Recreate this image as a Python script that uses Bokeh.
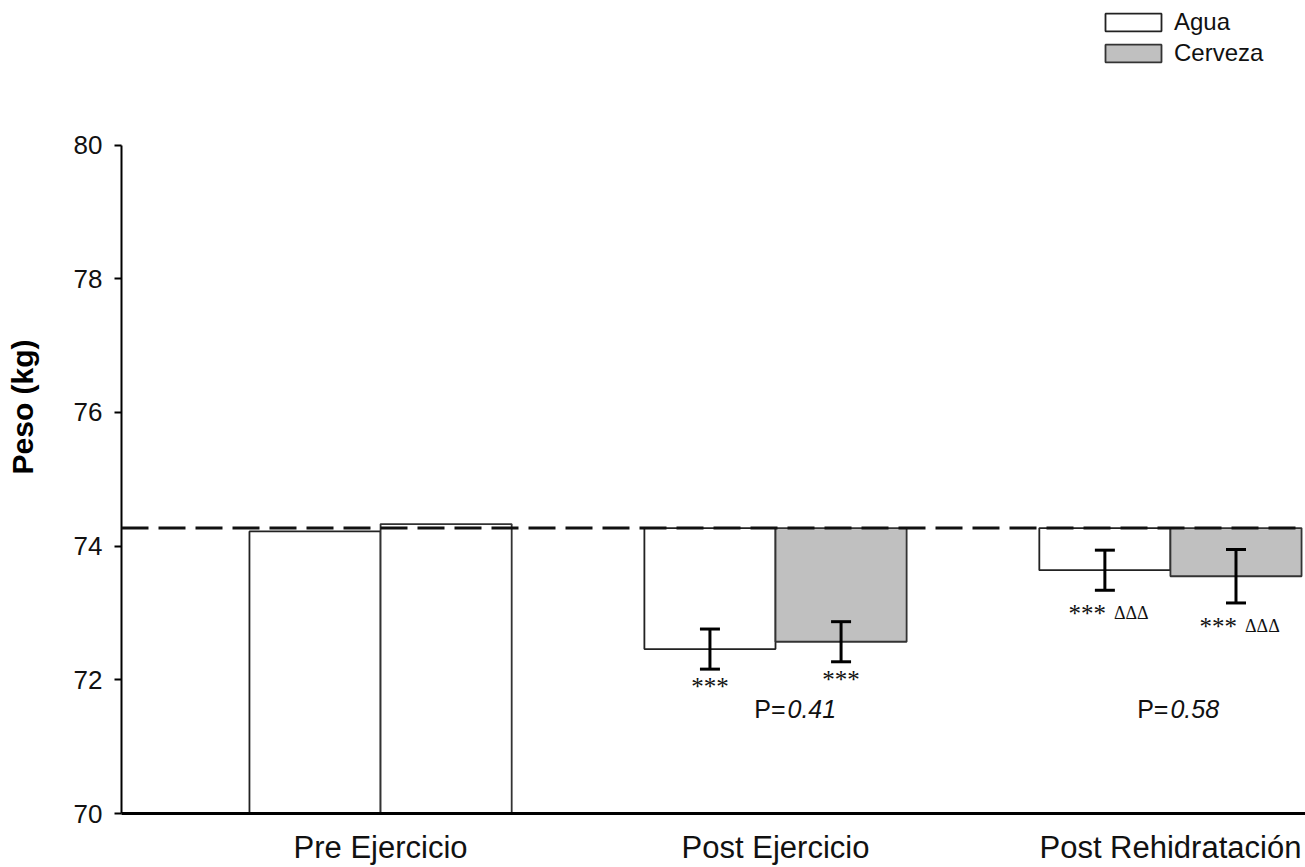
import numpy as np
from bokeh.plotting import figure
from bokeh.models import (ColumnDataSource, Range1d, FixedTicker, Span, Whisker,
                          TeeHead, Legend, LegendItem)
from bokeh.core.properties import value
from bokeh.embed import file_html
from bokeh.resources import INLINE

# ---------------- data ----------------
categories = ["Pre Ejercicio", "Post Ejercicio", "Post Rehidratación"]
series_names = ["Agua", "Cerveza"]
agua = [74.22, 72.46, 73.64]
cerveza = [74.33, 72.57, 73.55]
agua_err = [0.0, 0.30, 0.30]
cerveza_err = [0.0, 0.30, 0.40]
baseline = 74.27            # peso pre-ejercicio (línea discontinua)
stars = ["", "***", "***"]
deltas = ["", "", "ΔΔΔ"]
p_values = ["", "0.41", "0.58"]
y_ticks = [70, 72, 74, 76, 78, 80]

# ---------------- styles / layout constants ----------------
FONT = "Liberation Sans"
SERIF = "Liberation Serif"
agua_fill = ["white", "white", "white"]
cerveza_fill = ["white", "#c0c0c0", "#c0c0c0"]
x_start, x_end = -0.656, 2.342
y_start, y_axis_top, y_end = 70, 80, 82.164
dodge = 0.166
bar_w = 0.332

p = figure(width=1305, height=867,
           x_range=Range1d(x_start, x_end), y_range=Range1d(y_start, y_end),
           output_backend="svg", toolbar_location=None,
           min_border_left=121, min_border_right=0,
           min_border_top=0, min_border_bottom=52)
p.grid.visible = False
p.outline_line_color = None
p.background_fill_color = "white"

# bars: pre-exercise bars rise from the axis floor, later bars hang from the baseline
def bar_source(vals, offset, fills):
    xs, tops, bottoms = [], [], []
    for i, v in enumerate(vals):
        xs.append(i + offset)
        if i == 0:
            bottoms.append(y_start)
            tops.append(v)
        else:
            tops.append(baseline)
            bottoms.append(v)
    return ColumnDataSource(dict(x=xs, top=tops, bottom=bottoms, fill=fills))

r_agua = p.vbar(x="x", top="top", bottom="bottom", width=bar_w,
                source=bar_source(agua, -dodge, agua_fill),
                fill_color="fill", line_color="#222222", line_width=1.8)
r_cerv = p.vbar(x="x", top="top", bottom="bottom", width=bar_w,
                source=bar_source(cerveza, dodge, cerveza_fill),
                fill_color="fill", line_color="#333333", line_width=1.8)

# dashed baseline
p.add_layout(Span(location=baseline, dimension="width", line_color="#111111",
                  line_width=3, line_dash="27 10"))

# error bars
for vals, errs, off in [(agua, agua_err, -dodge), (cerveza, cerveza_err, dodge)]:
    idx = [i for i, e in enumerate(errs) if e > 0]
    src = ColumnDataSource(dict(
        x=[i + off for i in idx],
        upper=[vals[i] + errs[i] for i in idx],
        lower=[vals[i] - errs[i] for i in idx]))
    p.add_layout(Whisker(base="x", upper="upper", lower="lower", source=src,
                         dimension="height", line_color="black", line_width=3,
                         level="overlay",
                         upper_head=TeeHead(size=20, line_width=3, line_color="black"),
                         lower_head=TeeHead(size=20, line_width=3, line_color="black")))

# significance marks below whiskers
for vals, errs, off in [(agua, agua_err, -dodge), (cerveza, cerveza_err, dodge)]:
    for i in range(len(categories)):
        if not stars[i]:
            continue
        low = vals[i] - errs[i]
        if deltas[i]:
            p.text(x=[i + off], y=[low], text=[stars[i]], text_align="right",
                   text_baseline="top", x_offset=1, y_offset=10,
                   text_font=value(SERIF), text_font_size="25px", text_color="#111")
            p.text(x=[i + off], y=[low], text=[deltas[i]], text_align="left",
                   text_baseline="top", x_offset=9, y_offset=13,
                   text_font=value(SERIF), text_font_size="18px", text_color="#111")
        else:
            p.text(x=[i + off], y=[low], text=[stars[i]], text_align="center",
                   text_baseline="top", x_offset=0, y_offset=4,
                   text_font=value(SERIF), text_font_size="25px", text_color="#111")

# P values
p_y = 71.57
p_dx = [0, 10, -2]
for i, pv in enumerate(p_values):
    if not pv:
        continue
    p.text(x=[i], y=[p_y], text=["P="], text_align="right", text_baseline="middle",
           x_offset=p_dx[i], text_font=value(FONT), text_font_size="25px", text_color="#111")
    p.text(x=[i], y=[p_y], text=[pv], text_align="left", text_baseline="middle",
           x_offset=p_dx[i] + 2, text_font=value(FONT), text_font_size="25px",
           text_font_style="italic", text_color="#111")

# axes
p.yaxis.ticker = FixedTicker(ticks=y_ticks)
p.yaxis.bounds = (y_start, y_axis_top)
p.yaxis.major_tick_out = 7
p.yaxis.major_tick_in = 0
p.yaxis.minor_tick_out = 0
p.yaxis.minor_tick_in = 0
p.yaxis.axis_line_width = 2
p.yaxis.major_tick_line_width = 2
p.yaxis.axis_line_color = "black"
p.yaxis.major_label_text_font = FONT
p.yaxis.major_label_text_font_size = "26px"
p.yaxis.major_label_text_color = "#111"
p.yaxis.major_label_standoff = 12
p.yaxis.axis_label = "Peso (kg)"
p.yaxis.axis_label_text_font = FONT
p.yaxis.axis_label_text_font_style = "bold"
p.yaxis.axis_label_text_font_size = "30px"
p.yaxis.axis_label_text_color = "black"
p.yaxis.axis_label_standoff = 32

p.xaxis.ticker = FixedTicker(ticks=list(range(len(categories))))
p.xaxis.major_label_overrides = {i: c for i, c in enumerate(categories)}
p.xaxis.major_tick_out = 0
p.xaxis.major_tick_in = 0
p.xaxis.minor_tick_out = 0
p.xaxis.minor_tick_in = 0
p.xaxis.axis_line_width = 3
p.xaxis.axis_line_color = "black"
p.xaxis.major_label_text_font = FONT
p.xaxis.major_label_text_font_size = "31px"
p.xaxis.major_label_text_color = "#111"
p.xaxis.major_label_standoff = 16

# legend (Cerveza swatch taken from a grey bar)
legend = Legend(items=[LegendItem(label=series_names[0], renderers=[r_agua], index=1),
                       LegendItem(label=series_names[1], renderers=[r_cerv], index=1)],
                location=(977, 746), orientation="vertical", padding=0, spacing=3,
                margin=0, glyph_width=70, glyph_height=22, label_standoff=6,
                label_text_font=FONT, label_text_font_size="24px",
                label_text_color="#111", border_line_color=None,
                background_fill_alpha=0)
p.add_layout(legend)

open("out.html", "w").write(file_html(p, INLINE))
